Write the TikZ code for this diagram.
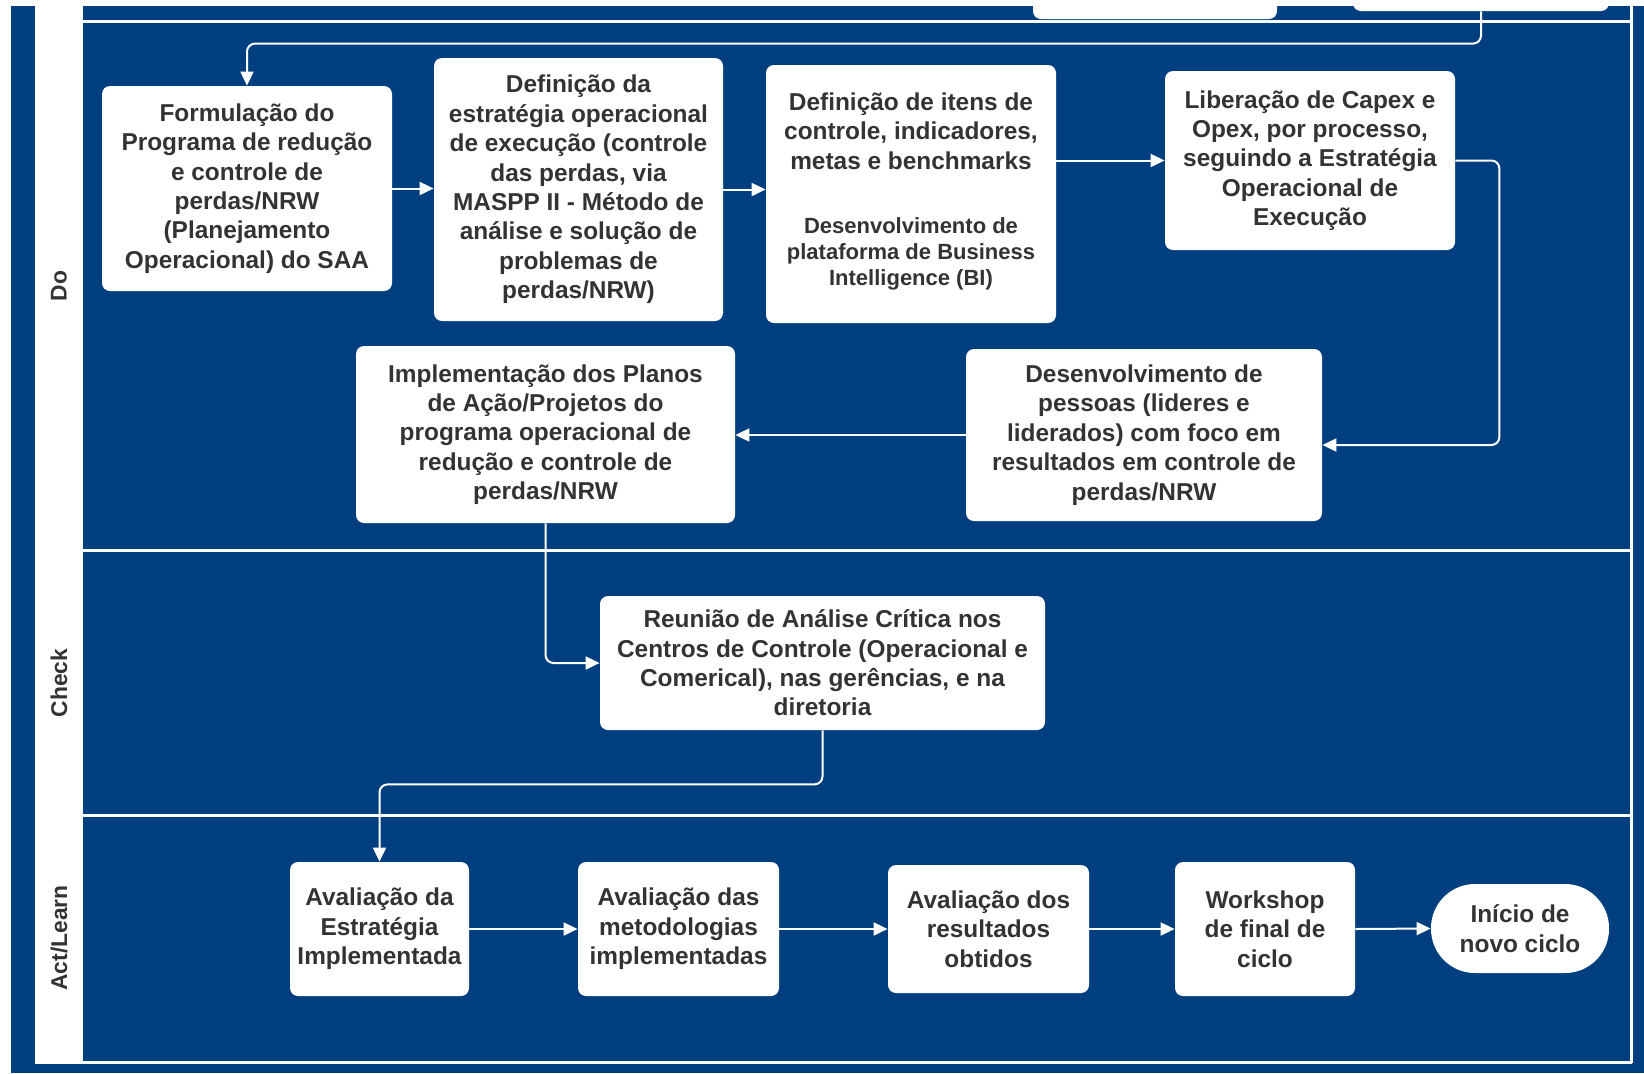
\documentclass[tikz,border=0pt]{standalone}
\usepackage{fontspec}
\setmainfont{Liberation Sans}
\usetikzlibrary{arrows.meta,calc}
\definecolor{laneblue}{RGB}{0,63,127}
\definecolor{txt}{RGB}{51,51,51}
\begin{document}
\begin{tikzpicture}[x=0.5pt,y=-0.5pt,
  box/.style={fill=white, rounded corners=4pt, inner sep=0pt, align=center, text=txt, font=\bfseries\fontsize{12.2}{14.7}\selectfont},
  boxtext/.style={inner sep=0pt, align=center, text=txt, font=\bfseries\fontsize{12.2}{14.7}\selectfont},
  smalltext/.style={inner sep=0pt, align=center, text=txt, font=\bfseries\fontsize{11}{13}\selectfont},
  arr/.style={draw=white, line width=1pt, rounded corners=4pt, -{Triangle[length=7pt,width=6.5pt]}},
  lanelbl/.style={rotate=90, text=txt, font=\bfseries\fontsize{11.4}{13}\selectfont},
  laneline/.style={draw=white, line width=1.5pt}]
\useasboundingbox (0,0) rectangle (1644,1073);
\fill[white] (0,0) rectangle (1644,1073);
\fill[laneblue] (11,6) rectangle (1644,1073);
\fill[white] (35,6) rectangle (83,1063);
% lane lines
\draw[laneline] (83,21) -- (1632,21);
\draw[laneline] (83,550) -- (1632,550);
\draw[laneline] (83,815) -- (1632,815);
\draw[laneline] (35,1062) -- (1632,1062);
\draw[laneline] (1631,6) -- (1631,1063);
% lane labels
\node[lanelbl] (ldo) at (59,286) {Do};
\node[lanelbl] (lcheck) at (59,683) {Check};
\node[lanelbl] (lact) at (59,938) {Act/Learn};
% truncated boxes of the lane above
\begin{scope}
\clip (0,0) rectangle (1644,1073);
\node[box, minimum width=122pt, minimum height=20pt] (topA) at (1155,-1) {};
\node[box, minimum width=128pt, minimum height=20pt] (topB) at (1481,-9) {};
\end{scope}
% Do lane
\node[box, minimum width=145pt, minimum height=102.5pt] (b1) at (247,188.5)
  {Formulação do\\Programa de redução\\e controle de\\perdas/NRW\\(Planejamento\\Operacional) do SAA};
\node[box, minimum width=144.5pt, minimum height=131.5pt] (b2) at (578.5,189.5)
  {Definição da\\estratégia operacional\\de execução (controle\\das perdas, via\\MASPP II - Método de\\análise e solução de\\problemas de\\perdas/NRW)};
\node[box, minimum width=145pt, minimum height=129pt] (b3) at (911,194) {};
\node[boxtext] (b3a) at (911,131) {Definição de itens de\\controle, indicadores,\\metas e benchmarks};
\node[smalltext] (b3b) at (911,254) {Desenvolvimento de\\plataforma de Business\\Intelligence (BI)};
\node[box, minimum width=145pt, minimum height=89.5pt] (b4) at (1310,160.5)
  {Liberação de Capex e\\Opex, por processo,\\seguindo a Estratégia\\Operacional de\\Execução};
\node[box, minimum width=178pt, minimum height=86pt] (b5) at (1144,435)
  {Desenvolvimento de\\pessoas (lideres e\\liderados) com foco em\\resultados em controle de\\perdas/NRW};
\node[box, minimum width=189.5pt, minimum height=88.5pt] (b6) at (545.5,434.5)
  {Implementação dos Planos\\de Ação/Projetos do\\programa operacional de\\redução e controle de\\perdas/NRW};
% Check lane
\node[box, minimum width=222.5pt, minimum height=67pt] (b7) at (822.5,663)
  {Reunião de Análise Crítica nos\\Centros de Controle (Operacional e\\Comerical), nas gerências, e na\\diretoria};
% Act lane
\node[box, minimum width=89.5pt, minimum height=67pt] (b8) at (379.5,929)
  {Avaliação da\\Estratégia\\Implementada};
\node[box, minimum width=100.5pt, minimum height=67pt] (b9) at (678.5,929)
  {Avaliação das\\metodologias\\implementadas};
\node[box, minimum width=100.5pt, minimum height=64pt] (b10) at (988.5,929)
  {Avaliação dos\\resultados\\obtidos};
\node[box, minimum width=90pt, minimum height=67pt] (b11) at (1265,929)
  {Workshop\\de final de\\ciclo};
\node[box, rounded corners=22pt, minimum width=89pt, minimum height=44.5pt] (b12) at (1520,928.5)
  {Início de\\novo ciclo};
% connectors
\draw[arr] (topB.south) |- ($(b1.north)+(0,-42)$) -- (b1.north);
\draw[arr] (b1.east) -- (b1.east -| b2.west);
\draw[arr] (b2.east) -- (b2.east -| b3.west);
\draw[arr] (b4.west -| b3.east) -- (b4.west);
\draw[arr] (b4.east) -- ++(44,0) |- ($(b5.east)+(0,10)$);
\draw[arr] (b5.west) -- (b5.west -| b6.east);
\draw[arr] (b6.south) |- (b7.west);
\draw[arr] (b7.south) -- ++(0,54) -| (b8.north);
\draw[arr] (b8.east) -- (b9.west);
\draw[arr] (b9.east) -- (b10.west);
\draw[arr] (b10.east) -- (b11.west);
\draw[arr] (b11.east) -- (b12.west);
\end{tikzpicture}
\end{document}
